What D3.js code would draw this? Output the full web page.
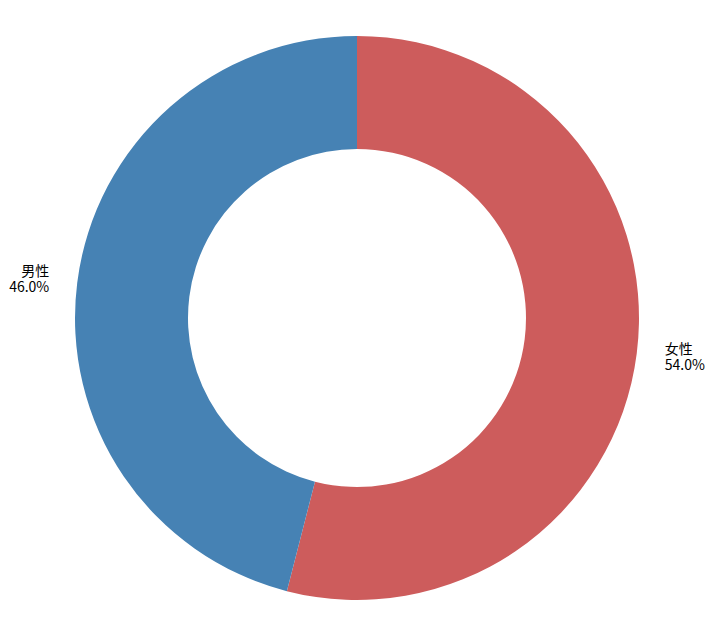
<!DOCTYPE html>
<html><head><meta charset="utf-8">
<script src="https://cdn.jsdelivr.net/npm/d3@7"></script>
<style>body{margin:0;background:#fff}svg{display:block}</style>
</head><body>
<svg id="c" width="714" height="636"></svg>
<script>
const categories = ["女性", "男性"];
const values = [54.0, 46.0];
const colors = ["#CD5C5C", "#4682B4"];

const svg = d3.select("#c");
const cx = 357, cy = 318, R = 282, r = 169;
const g = svg.append("g").attr("transform", `translate(${cx},${cy})`);
const data = categories.map((c, i) => ({c, v: values[i], col: colors[i]}));
const pie = d3.pie().value(d => d.v).sort(null).startAngle(0).endAngle(2 * Math.PI);
const arcs = pie(data);
const arc = d3.arc().innerRadius(r).outerRadius(R);
g.selectAll("path").data(arcs).join("path")
  .attr("d", arc).attr("fill", d => d.data.col);

const total = d3.sum(values);
const labelR = R * 1.1;
arcs.forEach(a => {
  const m = (a.startAngle + a.endAngle) / 2;
  const x = labelR * Math.sin(m), y = -labelR * Math.cos(m);
  const anchor = x >= 0 ? "start" : "end";
  const t = g.append("text")
    .attr("x", x).attr("y", y)
    .attr("text-anchor", anchor)
    .style("font-family", "'Noto Sans CJK SC', 'Noto Sans', sans-serif")
    .style("font-size", "14px").attr("fill", "#000");
  t.append("tspan").attr("x", x).attr("y", y - 3).text(a.data.c);
  t.append("tspan").attr("x", x).attr("y", y + 13).text((a.data.v / total * 100).toFixed(1) + "%");
});
</script>
</body></html>
